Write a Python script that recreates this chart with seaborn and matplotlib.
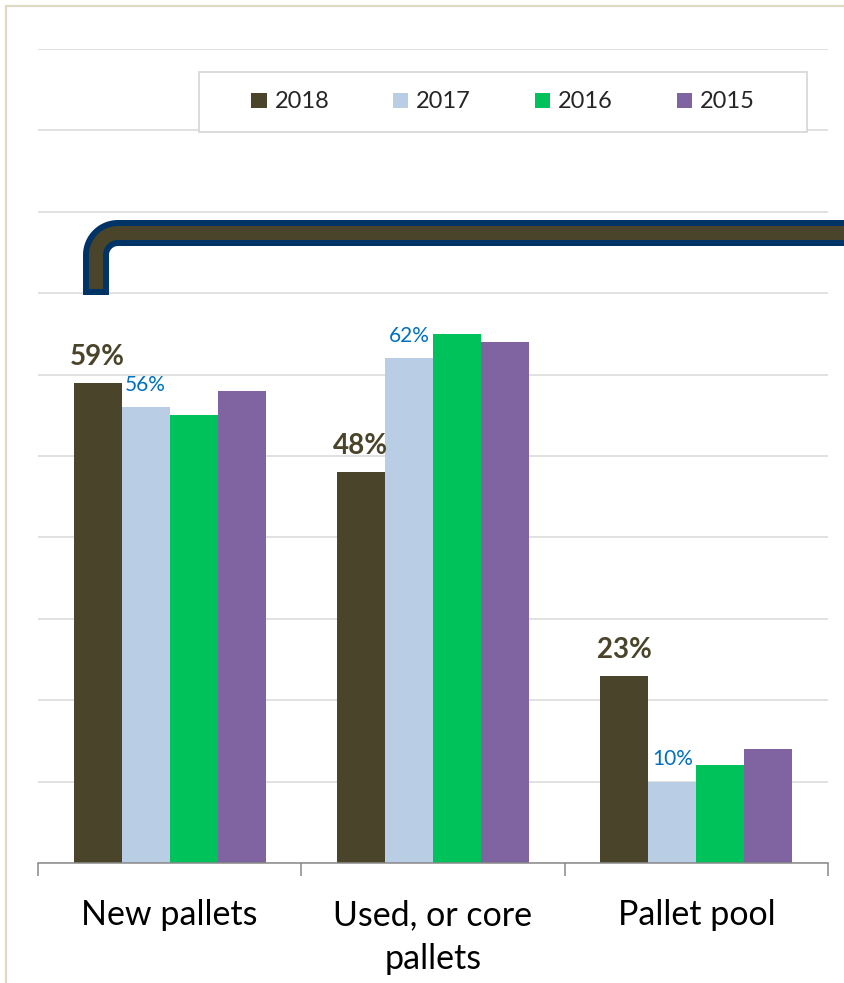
import numpy as np
import pandas as pd
import seaborn as sns
import matplotlib.pyplot as plt
import matplotlib.transforms as mtransforms
from matplotlib.patches import Patch
from matplotlib.lines import Line2D


categories = ["New pallets", "Used, or core\npallets", "Pallet pool"]
years = ["2018", "2017", "2016", "2015"]
values_2018 = [59, 48, 23]
values_2017 = [56, 62, 10]
values_2016 = [55, 65, 12]
values_2015 = [58, 64, 14]

colors = ["#4A452A", "#B9CDE5", "#00C25A", "#8064A2"]
COLOR_GRID = "#D9D9D9"
COLOR_AXIS = "#898989"
COLOR_BLUE = "#0070C0"
COLOR_NAVY = "#003366"
COLOR_FRAME = "#DDD9C3"

W, H = 844, 983


def build_frame():
	rows = []
	for year, vals in zip(years, [values_2018, values_2017, values_2016, values_2015]):
		for cat, v in zip(categories, vals):
			rows.append({"category": cat, "year": year, "value": v})
	return pd.DataFrame(rows)


def px_transform(fig):
	# pixel coords with y going down, like the picture
	return mtransforms.Affine2D().scale(1.0 / W, -1.0 / H).translate(0, 1) + fig.transFigure


def draw_bracket(fig):
	tr = px_transform(fig)
	x0, y_top, r = 96, 233, 22
	t = np.linspace(np.pi, 1.5 * np.pi, 30)
	arc_x = x0 + r + r * np.cos(t)
	arc_y = y_top + r + r * np.sin(t)

	xs = np.concatenate([[x0], arc_x, [870]])
	ys_outer = np.concatenate([[295], arc_y, [y_top]])
	ys_inner = np.concatenate([[289], arc_y, [y_top]])

	fig.add_artist(Line2D(xs, ys_outer, transform=tr, color=COLOR_NAVY,
		linewidth=26 * 0.72, solid_capstyle="butt", solid_joinstyle="round", zorder=10))
	fig.add_artist(Line2D(xs, ys_inner, transform=tr, color=colors[0],
		linewidth=14 * 0.72, solid_capstyle="butt", solid_joinstyle="round", zorder=11))


def draw_frame(fig):
	tr = px_transform(fig)
	fig.add_artist(Line2D([6, 6, 860], [1000, 6, 6], transform=tr, color=COLOR_FRAME,
		linewidth=1.6, solid_joinstyle="miter", zorder=20))


def main():
	sns.set_theme(style="white")
	plt.rcParams["font.family"] = ["Lato", "DejaVu Sans"]

	df = build_frame()

	fig = plt.figure(figsize=(W / 100, H / 100), dpi=100)
	fig.patch.set_facecolor("white")

	# axes box in pixels: x 38..828, y 49..863
	ax = fig.add_axes([38 / W, (H - 863) / H, 790 / W, 814 / H])

	sns.barplot(data=df, x="category", y="value", hue="year", hue_order=years,
		order=categories, palette=colors, width=0.73, linewidth=0,
		saturation=1, legend=False, ax=ax, zorder=3)

	ax.set_ylim(0, 100)
	ax.set_xlim(-0.5, 2.5)
	ax.set_yticks(np.arange(0, 101, 10))
	ax.set_yticklabels([])
	ax.tick_params(axis="y", length=0)
	ax.yaxis.grid(True, color=COLOR_GRID, linewidth=1.1, zorder=0)
	ax.set_axisbelow(True)

	for side in ["left", "right", "top"]:
		ax.spines[side].set_visible(False)
	ax.spines["bottom"].set_color(COLOR_AXIS)
	ax.spines["bottom"].set_linewidth(1.1)
	ax.spines["bottom"].set_zorder(5)

	ax.set_xticks([0, 1, 2])
	ax.set_xticklabels(categories, fontsize=24.5, color="black", linespacing=1.45)
	ax.set_xticks([-0.5, 0.5, 1.5, 2.5], minor=True)
	ax.tick_params(axis="x", which="major", length=0, pad=26)
	ax.tick_params(axis="x", which="minor", bottom=True, length=9, width=1.1,
		color=COLOR_AXIS, direction="out")
	ax.set_xlabel("")
	ax.set_ylabel("")

	# data labels: 2018 bold olive, 2017 blue
	ax.bar_label(ax.containers[0], labels=[f"{v}%" for v in values_2018],
		padding=9.5, fontsize=20, fontweight="bold", color=colors[0])
	ax.bar_label(ax.containers[1], labels=[f"{v}%" for v in values_2017],
		padding=9, fontsize=15, color=COLOR_BLUE)

	# legend with its own box
	handles = [Patch(facecolor=c, edgecolor="none", label=y) for c, y in zip(colors, years)]
	leg = ax.legend(handles=handles, loc="center", bbox_to_anchor=(465 / 790, 761 / 814),
		ncol=4, frameon=False, fontsize=17, handlelength=0.64, handleheight=0.6,
		handletextpad=0.34, columnspacing=2.7)
	leg.set_zorder(7)
	ax.add_patch(plt.Rectangle((161 / 790, 731 / 814), 608 / 790, 60 / 814,
		transform=ax.transAxes, facecolor="white", edgecolor=COLOR_GRID,
		linewidth=1.3, zorder=6, clip_on=False))

	draw_bracket(fig)
	draw_frame(fig)

	plt.savefig("out.png", dpi=100, facecolor="white")


if __name__ == "__main__":
	main()
